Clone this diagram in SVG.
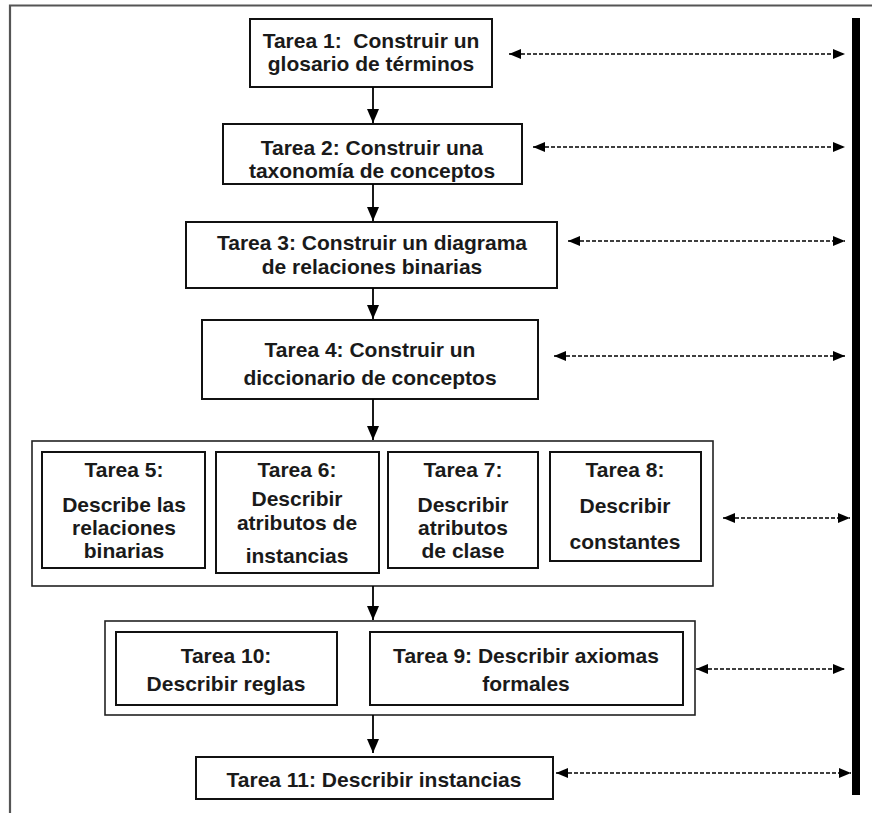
<svg xmlns="http://www.w3.org/2000/svg" width="872" height="813" viewBox="0 0 872 813">
  <defs>
    <marker id="head" viewBox="0 0 12 10" refX="12" refY="5" markerWidth="12" markerHeight="10" markerUnits="userSpaceOnUse" orient="auto-start-reverse">
      <path d="M0,0 L12,5 L0,10 Z" fill="#000"/>
    </marker>
    <marker id="down" viewBox="0 0 12 14" refX="6" refY="14" markerWidth="12" markerHeight="14" markerUnits="userSpaceOnUse" orient="0">
      <path d="M0,0 L12,0 L6,14 Z" fill="#000"/>
    </marker>
  </defs>
  <style>
    .box { fill: #fff; stroke: #111; stroke-width: 2; }
    .grp { fill: #fff; stroke: #222; stroke-width: 1.6; }
    .lbl { font-family: "Liberation Sans", Arial, sans-serif; font-weight: bold; font-size: 21px; fill: #1a1a1a; text-anchor: middle; white-space: pre; }
    .flow { stroke: #000; stroke-width: 1.8; fill: none; marker-end: url(#down); }
    .sync { stroke: #000; stroke-width: 1.7; stroke-dasharray: 4 2; fill: none; marker-start: url(#head); marker-end: url(#head); }
  </style>
  <rect width="872" height="813" fill="#fff"/>

  <!-- page frame (top and left edges) -->
  <path d="M10,813 V5.5 H872" fill="none" stroke="#555" stroke-width="2.2"/>

  <!-- shared timeline bar -->
  <rect id="bar" x="852" y="18" width="8" height="777" fill="#000"/>

  <g id="t1">
    <rect class="box" x="250" y="19" width="242" height="68"/>
    <text class="lbl" x="371" y="48">Tarea 1:  Construir un</text>
    <text class="lbl" x="371" y="71">glosario de términos</text>
  </g>

  <g id="t2">
    <rect class="box" x="223" y="124" width="299" height="60"/>
    <text class="lbl" x="372" y="155">Tarea 2: Construir una</text>
    <text class="lbl" x="372" y="178">taxonomía de conceptos</text>
  </g>

  <g id="t3">
    <rect class="box" x="186" y="222" width="371" height="66"/>
    <text class="lbl" x="372" y="250">Tarea 3: Construir un diagrama</text>
    <text class="lbl" x="372" y="274">de relaciones binarias</text>
  </g>

  <g id="t4">
    <rect class="box" x="202" y="320" width="336" height="79"/>
    <text class="lbl" x="370" y="357">Tarea 4: Construir un</text>
    <text class="lbl" x="370" y="385">diccionario de conceptos</text>
  </g>

  <g id="g5to8">
    <rect class="grp" x="32" y="441" width="681" height="145"/>
  </g>

  <g id="t5">
    <rect class="box" x="42" y="452" width="163" height="116"/>
    <text class="lbl" x="124" y="477">Tarea 5:</text>
    <text class="lbl" x="124" y="512">Describe las</text>
    <text class="lbl" x="124" y="535">relaciones</text>
    <text class="lbl" x="124" y="558">binarias</text>
  </g>

  <g id="t6">
    <rect class="box" x="216" y="452" width="163" height="121"/>
    <text class="lbl" x="297" y="477">Tarea 6:</text>
    <text class="lbl" x="297" y="506">Describir</text>
    <text class="lbl" x="297" y="530">atributos de</text>
    <text class="lbl" x="297" y="563">instancias</text>
  </g>

  <g id="t7">
    <rect class="box" x="388" y="452" width="150" height="116"/>
    <text class="lbl" x="463" y="477">Tarea 7:</text>
    <text class="lbl" x="463" y="512">Describir</text>
    <text class="lbl" x="463" y="535">atributos</text>
    <text class="lbl" x="463" y="558">de clase</text>
  </g>

  <g id="t8">
    <rect class="box" x="550" y="452" width="151" height="109"/>
    <text class="lbl" x="625" y="477">Tarea 8:</text>
    <text class="lbl" x="625" y="513">Describir</text>
    <text class="lbl" x="625" y="549">constantes</text>
  </g>

  <g id="g9and10">
    <rect class="grp" x="105" y="621" width="590" height="94"/>
  </g>

  <g id="t10">
    <rect class="box" x="116" y="632" width="221" height="73"/>
    <text class="lbl" x="226" y="663">Tarea 10:</text>
    <text class="lbl" x="226" y="691">Describir reglas</text>
  </g>

  <g id="t9">
    <rect class="box" x="370" y="632" width="313" height="73"/>
    <text class="lbl" x="526" y="663">Tarea 9: Describir axiomas</text>
    <text class="lbl" x="526" y="691">formales</text>
  </g>

  <g id="t11">
    <rect class="box" x="196" y="757" width="357" height="42"/>
    <text class="lbl" x="374" y="787">Tarea 11: Describir instancias</text>
  </g>

  <g id="connectors">
    <!-- sequential flow -->
    <line class="flow" x1="373" y1="87" x2="373" y2="123"/>
    <line class="flow" x1="373" y1="184" x2="373" y2="221"/>
    <line class="flow" x1="373" y1="288" x2="373" y2="319"/>
    <line class="flow" x1="373" y1="399" x2="373" y2="440"/>
    <line class="flow" x1="373" y1="586" x2="373" y2="620"/>
    <line class="flow" x1="373" y1="715" x2="373" y2="753"/>
    <!-- links to the timeline bar -->
    <line class="sync" x1="509" y1="54" x2="845" y2="54"/>
    <line class="sync" x1="533" y1="147" x2="845" y2="147"/>
    <line class="sync" x1="568" y1="241" x2="845" y2="241"/>
    <line class="sync" x1="554" y1="356" x2="845" y2="356"/>
    <line class="sync" x1="723" y1="518" x2="850" y2="518"/>
    <line class="sync" x1="696" y1="669" x2="845" y2="669"/>
    <line class="sync" x1="556" y1="773" x2="851" y2="773"/>
  </g>
</svg>
